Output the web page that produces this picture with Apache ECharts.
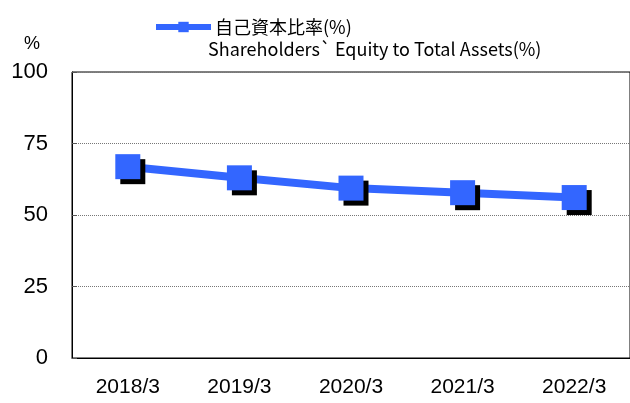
<!DOCTYPE html>
<html>
<head>
<meta charset="utf-8">
<script src="https://cdn.jsdelivr.net/npm/echarts@6/dist/echarts.min.js"></script>
<style>
  html, body { margin: 0; padding: 0; background: #fff; }
  #chart { width: 630px; height: 403px; }
</style>
</head>
<body>
<div id="chart"></div>
<script>
// categories and values
var categories = ["2018/3", "2019/3", "2020/3", "2021/3", "2022/3"];
var equityRatio = [66.9, 63.0, 59.4, 57.8, 56.1];
var seriesName = "自己資本比率(%)";
var seriesNameEn = "Shareholders` Equity to Total Assets(%)";
var yTicks = [0, 25, 50, 75, 100];

var narrow = "'Liberation Sans', sans-serif";
var jp = "'Noto Sans CJK JP', sans-serif";

var chart = echarts.init(document.getElementById("chart"));
var option = {
  animation: false,
  grid: {
    left: 72,
    top: 72,
    right: -2,
    bottom: 45,
    show: true,
    borderColor: "#000",
    borderWidth: 1
  },
  legend: {
    data: [seriesName],
    left: 148,
    top: 13,
    itemWidth: 55,
    itemHeight: 13,
    itemGap: 4,
    lineStyle: { width: 6 },
    textStyle: { fontFamily: jp, fontSize: 18, color: "#000", padding: [0, 0, 0, -1] }
  },
  graphic: [
    {
      type: "text",
      left: 208,
      top: 40,
      style: { text: seriesNameEn, font: "18px " + jp, fill: "#000" }
    },
    {
      type: "text",
      left: 24,
      top: 35,
      style: { text: "%", font: "18px " + narrow, fill: "#000" }
    }
  ],
  xAxis: {
    type: "category",
    data: categories,
    boundaryGap: true,
    axisLine: { lineStyle: { color: "#000", width: 1 } },
    axisTick: { inside: true, length: 8, lineStyle: { color: "#000" } },
    axisLabel: { margin: 19, fontFamily: narrow, fontSize: 21, color: "#000" }
  },
  yAxis: {
    type: "value",
    min: yTicks[0],
    max: yTicks[yTicks.length - 1],
    interval: 25,
    axisLine: { show: true, lineStyle: { color: "#000", width: 1 } },
    axisTick: { show: true, inside: true, length: 5, lineStyle: { color: "#555" } },
    axisLabel: { margin: 24, fontFamily: narrow, fontSize: 22, color: "#000" },
    splitLine: { lineStyle: { color: "#777", type: "dotted", width: 1 } }
  },
  series: [
    {
      name: seriesName,
      type: "line",
      data: equityRatio,
      symbol: "rect",
      symbolSize: 25,
      lineStyle: { color: "#3366ff", width: 8 },
      itemStyle: {
        color: "#3366ff",
        shadowColor: "#000",
        shadowBlur: 0,
        shadowOffsetX: 5,
        shadowOffsetY: 5
      }
    }
  ]
};
chart.setOption(option);
</script>
</body>
</html>
